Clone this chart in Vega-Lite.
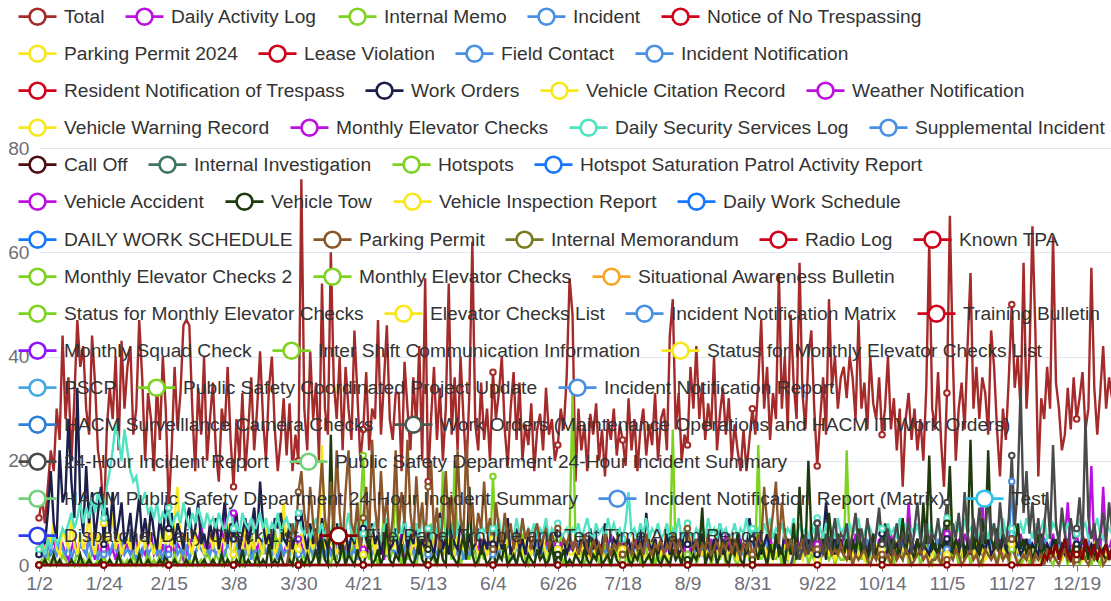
{
"$schema":"https://vega.github.io/schema/vega-lite/v6.json",
"width":1073,"height":417,
"autosize":{"type":"none"},
"padding":{"left":39,"top":148,"right":0,"bottom":36},
"background":"#ffffff",
"config":{"view":{"stroke":null},"font":"Liberation Sans",
 "legend":{"orient":"none","direction":"horizontal","symbolType":"M-1,0L-0.42,0M0.42,0L1,0M-0.42,0A0.42,0.42,0,1,1,0.42,0A0.42,0.42,0,1,1,-0.42,0","symbolSize":1444,"symbolStrokeWidth":2.6,"symbolFillColor":"#ffffff","labelFontSize":19.2,"labelColor":"#333333","labelFont":"Liberation Sans","labelOffset":6,"labelLimit":900,"columnPadding":15,"padding":0}},
"datasets":{
"names":[{"k":"T","name":"Total"},{"k":"a","name":"Daily Activity Log"},{"k":"m","name":"Internal Memo"},{"k":"i","name":"Incident"},{"k":"y","name":"Parking Permit 2024"},{"k":"w","name":"Work Orders"},{"k":"s","name":"Daily Security Services Log"},{"k":"v","name":"Vehicle Tow"},{"k":"p","name":"Parking Permit"},{"k":"h","name":"24-Hour Incident Report"},{"k":"f","name":"Fire Panel Trouble and Test Time Alarm Report"}],
"days":[
{"d":"1/2","T":9,"a":3,"m":0,"i":2,"y":3,"w":2,"s":3,"v":0,"p":0,"h":0,"f":0},
{"d":"1/3","T":13,"a":2,"m":1,"i":3,"y":5,"w":6,"s":4,"v":0,"p":0,"h":0,"f":0},
{"d":"1/4","T":8,"a":4,"m":0,"i":1,"y":2,"w":4,"s":2,"v":1,"p":0,"h":0,"f":0},
{"d":"1/5","T":15,"a":1,"m":2,"i":4,"y":6,"w":10,"s":5,"v":0,"p":0,"h":0,"f":0},
{"d":"1/6","T":22,"a":3,"m":0,"i":2,"y":4,"w":18,"s":3,"v":0,"p":0,"h":0,"f":0},
{"d":"1/7","T":18,"a":5,"m":1,"i":3,"y":8,"w":8,"s":6,"v":2,"p":0,"h":0,"f":0},
{"d":"1/8","T":30,"a":2,"m":0,"i":2,"y":3,"w":5,"s":4,"v":0,"p":0,"h":0,"f":0},
{"d":"1/9","T":24,"a":3,"m":0,"i":5,"y":2,"w":22,"s":5,"v":1,"p":0,"h":0,"f":0},
{"d":"1/10","T":44,"a":4,"m":2,"i":3,"y":7,"w":12,"s":7,"v":0,"p":0,"h":0,"f":0},
{"d":"1/11","T":28,"a":2,"m":1,"i":2,"y":5,"w":14,"s":6,"v":0,"p":0,"h":0,"f":0},
{"d":"1/12","T":36,"a":1,"m":0,"i":4,"y":3,"w":28,"s":8,"v":0,"p":0,"h":0,"f":0},
{"d":"1/13","T":20,"a":3,"m":1,"i":1,"y":9,"w":16,"s":10,"v":1,"p":0,"h":0,"f":0},
{"d":"1/14","T":32,"a":5,"m":0,"i":3,"y":4,"w":9,"s":7,"v":0,"p":0,"h":0,"f":0},
{"d":"1/15","T":47,"a":2,"m":3,"i":2,"y":2,"w":34,"s":9,"v":0,"p":0,"h":0,"f":0},
{"d":"1/16","T":38,"a":4,"m":0,"i":4,"y":6,"w":12,"s":12,"v":2,"p":0,"h":0,"f":0},
{"d":"1/17","T":42,"a":3,"m":1,"i":3,"y":3,"w":6,"s":8,"v":0,"p":0,"h":0,"f":0},
{"d":"1/18","T":30,"a":2,"m":0,"i":2,"y":5,"w":19,"s":11,"v":0,"p":0,"h":0,"f":0},
{"d":"1/19","T":25,"a":6,"m":2,"i":5,"y":10,"w":8,"s":9,"v":1,"p":0,"h":0,"f":0},
{"d":"1/20","T":44,"a":3,"m":0,"i":2,"y":4,"w":14,"s":13,"v":0,"p":0,"h":0,"f":0},
{"d":"1/21","T":35,"a":1,"m":0,"i":3,"y":2,"w":5,"s":10,"v":0,"p":0,"h":0,"f":0},
{"d":"1/22","T":22,"a":4,"m":1,"i":1,"y":6,"w":10,"s":14,"v":0,"p":0,"h":0,"f":0},
{"d":"1/23","T":18,"a":2,"m":0,"i":4,"y":3,"w":15,"s":12,"v":1,"p":0,"h":0,"f":0},
{"d":"1/24","T":8,"a":3,"m":2,"i":2,"y":8,"w":4,"s":9,"v":0,"p":0,"h":0,"f":0},
{"d":"1/25","T":26,"a":5,"m":0,"i":3,"y":4,"w":11,"s":15,"v":0,"p":0,"h":0,"f":0},
{"d":"1/26","T":34,"a":2,"m":1,"i":2,"y":5,"w":6,"s":18,"v":1,"p":0,"h":0,"f":0},
{"d":"1/27","T":28,"a":3,"m":0,"i":4,"y":10,"w":14,"s":22,"v":0,"p":0,"h":0,"f":0},
{"d":"1/28","T":40,"a":1,"m":0,"i":3,"y":3,"w":5,"s":27,"v":0,"p":0,"h":0,"f":0},
{"d":"1/29","T":22,"a":4,"m":2,"i":2,"y":6,"w":8,"s":24,"v":2,"p":0,"h":0,"f":0},
{"d":"1/30","T":43,"a":2,"m":1,"i":5,"y":2,"w":12,"s":20,"v":0,"p":0,"h":0,"f":0},
{"d":"1/31","T":30,"a":3,"m":0,"i":2,"y":4,"w":4,"s":26,"v":0,"p":0,"h":0,"f":0},
{"d":"2/1","T":38,"a":4,"m":1,"i":3,"y":5,"w":6,"s":22,"v":0,"p":0,"h":0,"f":0},
{"d":"2/2","T":42,"a":2,"m":0,"i":2,"y":3,"w":10,"s":18,"v":1,"p":0,"h":0,"f":0},
{"d":"2/3","T":25,"a":3,"m":2,"i":4,"y":7,"w":3,"s":16,"v":0,"p":0,"h":0,"f":0},
{"d":"2/4","T":30,"a":5,"m":0,"i":1,"y":2,"w":8,"s":17,"v":0,"p":0,"h":0,"f":0},
{"d":"2/5","T":47,"a":1,"m":1,"i":3,"y":4,"w":13,"s":13,"v":2,"p":0,"h":0,"f":0},
{"d":"2/6","T":36,"a":3,"m":0,"i":2,"y":6,"w":5,"s":12,"v":0,"p":0,"h":0,"f":0},
{"d":"2/7","T":20,"a":2,"m":0,"i":5,"y":3,"w":9,"s":14,"v":0,"p":0,"h":0,"f":0},
{"d":"2/8","T":33,"a":4,"m":3,"i":2,"y":8,"w":4,"s":10,"v":1,"p":0,"h":0,"f":0},
{"d":"2/9","T":28,"a":6,"m":0,"i":3,"y":4,"w":11,"s":11,"v":0,"p":0,"h":0,"f":0},
{"d":"2/10","T":18,"a":2,"m":1,"i":4,"y":2,"w":6,"s":9,"v":0,"p":0,"h":0,"f":0},
{"d":"2/11","T":35,"a":3,"m":0,"i":2,"y":5,"w":3,"s":12,"v":0,"p":0,"h":0,"f":0},
{"d":"2/12","T":24,"a":1,"m":2,"i":3,"y":3,"w":9,"s":8,"v":1,"p":0,"h":0,"f":0},
{"d":"2/13","T":40,"a":4,"m":0,"i":1,"y":7,"w":5,"s":10,"v":0,"p":0,"h":0,"f":0},
{"d":"2/14","T":30,"a":2,"m":1,"i":4,"y":4,"w":12,"s":9,"v":2,"p":0,"h":0,"f":0},
{"d":"2/15","T":11,"a":3,"m":0,"i":2,"y":6,"w":7,"s":11,"v":0,"p":0,"h":0,"f":0},
{"d":"2/16","T":22,"a":5,"m":0,"i":3,"y":3,"w":10,"s":7,"v":0,"p":0,"h":0,"f":0},
{"d":"2/17","T":38,"a":2,"m":2,"i":5,"y":9,"w":4,"s":9,"v":1,"p":0,"h":0,"f":0},
{"d":"2/18","T":26,"a":4,"m":0,"i":2,"y":15,"w":8,"s":10,"v":0,"p":0,"h":0,"f":0},
{"d":"2/19","T":33,"a":3,"m":1,"i":3,"y":5,"w":6,"s":8,"v":0,"p":0,"h":0,"f":0},
{"d":"2/20","T":46,"a":1,"m":4,"i":2,"y":3,"w":3,"s":12,"v":0,"p":0,"h":0,"f":0},
{"d":"2/21","T":47,"a":2,"m":0,"i":4,"y":6,"w":9,"s":9,"v":1,"p":0,"h":0,"f":0},
{"d":"2/22","T":46,"a":5,"m":1,"i":1,"y":4,"w":11,"s":7,"v":0,"p":0,"h":0,"f":0},
{"d":"2/23","T":30,"a":3,"m":0,"i":3,"y":2,"w":5,"s":10,"v":0,"p":0,"h":0,"f":0},
{"d":"2/24","T":18,"a":2,"m":2,"i":2,"y":7,"w":7,"s":8,"v":2,"p":0,"h":0,"f":0},
{"d":"2/25","T":34,"a":4,"m":0,"i":4,"y":3,"w":12,"s":11,"v":0,"p":0,"h":0,"f":0},
{"d":"2/26","T":25,"a":8,"m":1,"i":3,"y":5,"w":4,"s":9,"v":0,"p":0,"h":0,"f":0},
{"d":"2/27","T":40,"a":3,"m":0,"i":2,"y":2,"w":6,"s":7,"v":1,"p":0,"h":0,"f":0},
{"d":"2/28","T":20,"a":2,"m":3,"i":3,"y":4,"w":3,"s":10,"v":0,"p":0,"h":0,"f":0},
{"d":"2/29","T":28,"a":4,"m":1,"i":2,"y":6,"w":8,"s":8,"v":0,"p":0,"h":0,"f":0},
{"d":"3/1","T":35,"a":3,"m":0,"i":4,"y":3,"w":5,"s":9,"v":1,"p":0,"h":0,"f":0},
{"d":"3/2","T":22,"a":9,"m":2,"i":2,"y":6,"w":9,"s":7,"v":0,"p":0,"h":0,"f":0},
{"d":"3/3","T":16,"a":4,"m":1,"i":3,"y":2,"w":3,"s":10,"v":0,"p":0,"h":0,"f":0},
{"d":"3/4","T":30,"a":2,"m":0,"i":1,"y":5,"w":7,"s":8,"v":2,"p":0,"h":0,"f":0},
{"d":"3/5","T":26,"a":12,"m":3,"i":2,"y":4,"w":12,"s":6,"v":0,"p":0,"h":0,"f":0},
{"d":"3/6","T":38,"a":5,"m":1,"i":4,"y":8,"w":4,"s":9,"v":1,"p":0,"h":0,"f":0},
{"d":"3/7","T":24,"a":3,"m":0,"i":3,"y":3,"w":8,"s":11,"v":0,"p":0,"h":0,"f":0},
{"d":"3/8","T":15,"a":10,"m":2,"i":2,"y":2,"w":5,"s":7,"v":0,"p":0,"h":0,"f":0},
{"d":"3/9","T":28,"a":4,"m":4,"i":5,"y":6,"w":10,"s":8,"v":1,"p":0,"h":0,"f":0},
{"d":"3/10","T":20,"a":2,"m":1,"i":2,"y":4,"w":3,"s":6,"v":0,"p":0,"h":0,"f":0},
{"d":"3/11","T":33,"a":6,"m":0,"i":3,"y":3,"w":6,"s":10,"v":3,"p":0,"h":0,"f":0},
{"d":"3/12","T":18,"a":3,"m":3,"i":2,"y":7,"w":9,"s":8,"v":0,"p":0,"h":0,"f":0},
{"d":"3/13","T":26,"a":8,"m":2,"i":4,"y":2,"w":4,"s":7,"v":1,"p":0,"h":0,"f":0},
{"d":"3/14","T":36,"a":2,"m":6,"i":1,"y":5,"w":7,"s":9,"v":0,"p":0,"h":0,"f":0},
{"d":"3/15","T":22,"a":4,"m":1,"i":3,"y":3,"w":11,"s":6,"v":0,"p":0,"h":0,"f":0},
{"d":"3/16","T":30,"a":3,"m":0,"i":2,"y":6,"w":5,"s":8,"v":2,"p":0,"h":0,"f":0},
{"d":"3/17","T":41,"a":5,"m":2,"i":3,"y":4,"w":16,"s":10,"v":0,"p":0,"h":0,"f":0},
{"d":"3/18","T":28,"a":2,"m":5,"i":5,"y":2,"w":8,"s":7,"v":1,"p":0,"h":0,"f":0},
{"d":"3/19","T":20,"a":7,"m":8,"i":2,"y":9,"w":4,"s":9,"v":0,"p":0,"h":0,"f":0},
{"d":"3/20","T":34,"a":3,"m":3,"i":4,"y":3,"w":6,"s":6,"v":4,"p":0,"h":0,"f":0},
{"d":"3/21","T":40,"a":4,"m":1,"i":2,"y":5,"w":3,"s":8,"v":0,"p":0,"h":0,"f":0},
{"d":"3/22","T":26,"a":2,"m":7,"i":3,"y":2,"w":9,"s":7,"v":1,"p":0,"h":0,"f":0},
{"d":"3/23","T":18,"a":5,"m":2,"i":1,"y":4,"w":7,"s":10,"v":0,"p":0,"h":0,"f":0},
{"d":"3/24","T":24,"a":3,"m":4,"i":4,"y":6,"w":10,"s":6,"v":2,"p":0,"h":0,"f":0},
{"d":"3/25","T":32,"a":2,"m":9,"i":2,"y":12,"w":5,"s":8,"v":0,"p":0,"h":0,"f":0},
{"d":"3/26","T":21,"a":4,"m":3,"i":3,"y":3,"w":4,"s":9,"v":0,"p":0,"h":0,"f":0},
{"d":"3/27","T":31,"a":6,"m":1,"i":2,"y":5,"w":8,"s":7,"v":1,"p":3,"h":0,"f":0},
{"d":"3/28","T":18,"a":3,"m":5,"i":4,"y":2,"w":3,"s":6,"v":0,"p":8,"h":0,"f":0},
{"d":"3/29","T":25,"a":2,"m":2,"i":3,"y":4,"w":6,"s":8,"v":3,"p":5,"h":0,"f":0},
{"d":"3/30","T":20,"a":5,"m":0,"i":2,"y":3,"w":9,"s":10,"v":0,"p":14,"h":0,"f":0},
{"d":"3/31","T":74,"a":4,"m":1,"i":3,"y":6,"w":10,"s":7,"v":1,"p":18,"h":0,"f":0},
{"d":"4/1","T":30,"a":2,"m":2,"i":2,"y":4,"w":6,"s":6,"v":0,"p":10,"h":0,"f":0},
{"d":"4/2","T":22,"a":4,"m":0,"i":4,"y":2,"w":3,"s":8,"v":2,"p":6,"h":0,"f":0},
{"d":"4/3","T":41,"a":3,"m":4,"i":3,"y":5,"w":8,"s":5,"v":0,"p":15,"h":0,"f":0},
{"d":"4/4","T":28,"a":5,"m":1,"i":2,"y":3,"w":4,"s":7,"v":1,"p":8,"h":0,"f":0},
{"d":"4/5","T":35,"a":2,"m":3,"i":5,"y":6,"w":7,"s":9,"v":3,"p":4,"h":0,"f":0},
{"d":"4/6","T":20,"a":3,"m":0,"i":2,"y":2,"w":2,"s":6,"v":0,"p":12,"h":0,"f":0},
{"d":"4/7","T":54,"a":6,"m":2,"i":3,"y":23,"w":9,"s":8,"v":5,"p":20,"h":0,"f":0},
{"d":"4/8","T":30,"a":2,"m":5,"i":1,"y":3,"w":5,"s":5,"v":1,"p":9,"h":0,"f":0},
{"d":"4/9","T":25,"a":4,"m":1,"i":4,"y":7,"w":3,"s":7,"v":0,"p":5,"h":0,"f":0},
{"d":"4/10","T":60,"a":3,"m":0,"i":2,"y":4,"w":6,"s":6,"v":25,"p":16,"h":0,"f":0},
{"d":"4/11","T":35,"a":1,"m":3,"i":3,"y":4,"w":4,"s":9,"v":2,"p":7,"h":0,"f":0},
{"d":"4/12","T":28,"a":4,"m":1,"i":2,"y":2,"w":8,"s":5,"v":0,"p":22,"h":0,"f":0},
{"d":"4/13","T":40,"a":2,"m":8,"i":6,"y":5,"w":3,"s":8,"v":1,"p":10,"h":0,"f":0},
{"d":"4/14","T":22,"a":5,"m":2,"i":3,"y":3,"w":5,"s":6,"v":4,"p":4,"h":0,"f":0},
{"d":"4/15","T":38,"a":3,"m":0,"i":2,"y":6,"w":7,"s":7,"v":0,"p":14,"h":0,"f":0},
{"d":"4/16","T":30,"a":2,"m":4,"i":4,"y":2,"w":2,"s":10,"v":2,"p":22,"h":0,"f":0},
{"d":"4/17","T":24,"a":4,"m":1,"i":2,"y":4,"w":6,"s":6,"v":1,"p":8,"h":0,"f":0},
{"d":"4/18","T":45,"a":3,"m":6,"i":3,"y":8,"w":4,"s":5,"v":0,"p":6,"h":0,"f":0},
{"d":"4/19","T":33,"a":6,"m":2,"i":1,"y":3,"w":9,"s":8,"v":3,"p":12,"h":0,"f":0},
{"d":"4/20","T":20,"a":2,"m":10,"i":4,"y":5,"w":3,"s":7,"v":1,"p":3,"h":0,"f":0},
{"d":"4/21","T":26,"a":3,"m":21,"i":2,"y":2,"w":7,"s":6,"v":0,"p":9,"h":0,"f":0},
{"d":"4/22","T":37,"a":4,"m":3,"i":3,"y":4,"w":5,"s":9,"v":2,"p":15,"h":0,"f":0},
{"d":"4/23","T":22,"a":2,"m":1,"i":5,"y":3,"w":3,"s":5,"v":5,"p":5,"h":0,"f":0},
{"d":"4/24","T":30,"a":5,"m":5,"i":2,"y":6,"w":8,"s":7,"v":0,"p":24,"h":0,"f":0},
{"d":"4/25","T":28,"a":3,"m":2,"i":3,"y":2,"w":4,"s":8,"v":1,"p":11,"h":0,"f":0},
{"d":"4/26","T":47,"a":2,"m":0,"i":2,"y":5,"w":6,"s":6,"v":3,"p":6,"h":0,"f":0},
{"d":"4/27","T":25,"a":4,"m":4,"i":4,"y":3,"w":2,"s":5,"v":0,"p":18,"h":0,"f":0},
{"d":"4/28","T":35,"a":1,"m":9,"i":3,"y":4,"w":5,"s":7,"v":2,"p":8,"h":0,"f":0},
{"d":"4/29","T":46,"a":3,"m":2,"i":2,"y":2,"w":7,"s":9,"v":8,"p":13,"h":0,"f":0},
{"d":"4/30","T":28,"a":5,"m":1,"i":3,"y":6,"w":3,"s":6,"v":1,"p":4,"h":0,"f":0},
{"d":"5/1","T":24,"a":3,"m":3,"i":3,"y":3,"w":4,"s":7,"v":0,"p":9,"h":0,"f":0},
{"d":"5/2","T":33,"a":2,"m":16,"i":2,"y":5,"w":7,"s":5,"v":2,"p":22,"h":0,"f":0},
{"d":"5/3","T":33,"a":4,"m":2,"i":4,"y":2,"w":2,"s":8,"v":1,"p":6,"h":0,"f":0},
{"d":"5/4","T":18,"a":6,"m":0,"i":2,"y":4,"w":5,"s":6,"v":4,"p":14,"h":0,"f":0},
{"d":"5/5","T":39,"a":2,"m":4,"i":3,"y":6,"w":9,"s":9,"v":0,"p":8,"h":0,"f":0},
{"d":"5/6","T":30,"a":3,"m":1,"i":5,"y":3,"w":3,"s":5,"v":3,"p":24,"h":0,"f":0},
{"d":"5/7","T":22,"a":5,"m":6,"i":2,"y":2,"w":6,"s":7,"v":1,"p":10,"h":0,"f":0},
{"d":"5/8","T":36,"a":2,"m":2,"i":3,"y":5,"w":4,"s":6,"v":0,"p":5,"h":0,"f":0},
{"d":"5/9","T":26,"a":4,"m":0,"i":1,"y":3,"w":8,"s":8,"v":2,"p":17,"h":0,"f":0},
{"d":"5/10","T":42,"a":3,"m":3,"i":4,"y":7,"w":2,"s":5,"v":5,"p":7,"h":0,"f":0},
{"d":"5/11","T":20,"a":2,"m":1,"i":2,"y":2,"w":5,"s":10,"v":1,"p":12,"h":0,"f":0},
{"d":"5/12","T":55,"a":5,"m":5,"i":3,"y":4,"w":3,"s":6,"v":0,"p":4,"h":0,"f":0},
{"d":"5/13","T":16,"a":3,"m":2,"i":2,"y":3,"w":7,"s":7,"v":3,"p":15,"h":0,"f":0},
{"d":"5/14","T":28,"a":4,"m":8,"i":4,"y":5,"w":4,"s":5,"v":1,"p":20,"h":0,"f":0},
{"d":"5/15","T":38,"a":2,"m":1,"i":3,"y":2,"w":2,"s":8,"v":2,"p":6,"h":0,"f":0},
{"d":"5/16","T":24,"a":6,"m":0,"i":2,"y":6,"w":6,"s":6,"v":0,"p":11,"h":0,"f":0},
{"d":"5/17","T":34,"a":3,"m":3,"i":5,"y":3,"w":10,"s":9,"v":4,"p":3,"h":0,"f":0},
{"d":"5/18","T":20,"a":2,"m":18,"i":2,"y":4,"w":3,"s":5,"v":1,"p":9,"h":0,"f":0},
{"d":"5/19","T":30,"a":4,"m":2,"i":3,"y":2,"w":5,"s":7,"v":0,"p":18,"h":0,"f":0},
{"d":"5/20","T":54,"a":3,"m":4,"i":4,"y":5,"w":2,"s":6,"v":13,"p":7,"h":0,"f":0},
{"d":"5/21","T":25,"a":5,"m":1,"i":2,"y":3,"w":7,"s":8,"v":2,"p":13,"h":0,"f":0},
{"d":"5/22","T":36,"a":2,"m":20,"i":3,"y":2,"w":4,"s":5,"v":1,"p":5,"h":0,"f":0},
{"d":"5/23","T":22,"a":3,"m":3,"i":2,"y":6,"w":3,"s":7,"v":0,"p":22,"h":0,"f":0},
{"d":"5/24","T":40,"a":4,"m":0,"i":4,"y":4,"w":8,"s":9,"v":3,"p":9,"h":0,"f":0},
{"d":"5/25","T":28,"a":2,"m":2,"i":1,"y":3,"w":5,"s":6,"v":6,"p":6,"h":0,"f":0},
{"d":"5/26","T":18,"a":6,"m":6,"i":3,"y":2,"w":2,"s":5,"v":1,"p":24,"h":0,"f":0},
{"d":"5/27","T":33,"a":3,"m":1,"i":2,"y":5,"w":6,"s":8,"v":15,"p":8,"h":0,"f":0},
{"d":"5/28","T":62,"a":2,"m":4,"i":4,"y":3,"w":3,"s":6,"v":2,"p":12,"h":0,"f":0},
{"d":"5/29","T":27,"a":4,"m":2,"i":3,"y":4,"w":4,"s":7,"v":0,"p":4,"h":0,"f":0},
{"d":"5/30","T":22,"a":3,"m":0,"i":2,"y":2,"w":7,"s":5,"v":1,"p":10,"h":0,"f":0},
{"d":"5/31","T":35,"a":5,"m":3,"i":3,"y":3,"w":2,"s":8,"v":3,"p":7,"h":0,"f":0},
{"d":"6/1","T":24,"a":2,"m":1,"i":2,"y":4,"w":5,"s":6,"v":2,"p":16,"h":0,"f":0},
{"d":"6/2","T":30,"a":4,"m":4,"i":3,"y":2,"w":3,"s":8,"v":0,"p":6,"h":0,"f":0},
{"d":"6/3","T":20,"a":3,"m":2,"i":5,"y":3,"w":8,"s":5,"v":1,"p":9,"h":0,"f":0},
{"d":"6/4","T":37,"a":5,"m":17,"i":2,"y":5,"w":4,"s":7,"v":3,"p":3,"h":0,"f":0},
{"d":"6/5","T":28,"a":2,"m":3,"i":4,"y":2,"w":2,"s":6,"v":0,"p":12,"h":0,"f":0},
{"d":"6/6","T":33,"a":3,"m":1,"i":2,"y":4,"w":6,"s":9,"v":2,"p":7,"h":0,"f":0},
{"d":"6/7","T":40,"a":4,"m":5,"i":3,"y":3,"w":3,"s":5,"v":1,"p":4,"h":0,"f":0},
{"d":"6/8","T":26,"a":2,"m":2,"i":2,"y":2,"w":5,"s":8,"v":4,"p":10,"h":0,"f":0},
{"d":"6/9","T":19,"a":6,"m":0,"i":4,"y":6,"w":9,"s":6,"v":0,"p":5,"h":0,"f":0},
{"d":"6/10","T":30,"a":3,"m":3,"i":3,"y":3,"w":2,"s":7,"v":1,"p":8,"h":0,"f":0},
{"d":"6/11","T":37,"a":2,"m":1,"i":1,"y":2,"w":4,"s":5,"v":2,"p":3,"h":0,"f":0},
{"d":"6/12","T":24,"a":4,"m":4,"i":4,"y":4,"w":7,"s":9,"v":0,"p":6,"h":0,"f":0},
{"d":"6/13","T":35,"a":3,"m":2,"i":2,"y":3,"w":3,"s":6,"v":3,"p":4,"h":0,"f":0},
{"d":"6/14","T":20,"a":5,"m":6,"i":3,"y":2,"w":5,"s":8,"v":1,"p":9,"h":0,"f":0},
{"d":"6/15","T":27,"a":2,"m":1,"i":5,"y":5,"w":2,"s":5,"v":0,"p":5,"h":0,"f":0},
{"d":"6/16","T":23,"a":3,"m":0,"i":2,"y":3,"w":6,"s":7,"v":2,"p":7,"h":0,"f":0},
{"d":"6/17","T":31,"a":4,"m":3,"i":3,"y":2,"w":4,"s":6,"v":1,"p":3,"h":0,"f":0},
{"d":"6/18","T":18,"a":2,"m":2,"i":2,"y":4,"w":3,"s":8,"v":0,"p":6,"h":0,"f":0},
{"d":"6/19","T":26,"a":5,"m":5,"i":4,"y":2,"w":7,"s":5,"v":3,"p":8,"h":0,"f":0},
{"d":"6/20","T":29,"a":3,"m":1,"i":3,"y":3,"w":2,"s":7,"v":1,"p":4,"h":0,"f":0},
{"d":"6/21","T":22,"a":2,"m":4,"i":2,"y":5,"w":5,"s":6,"v":2,"p":5,"h":0,"f":0},
{"d":"6/22","T":34,"a":4,"m":0,"i":3,"y":2,"w":8,"s":9,"v":0,"p":7,"h":0,"f":0},
{"d":"6/23","T":25,"a":6,"m":2,"i":4,"y":3,"w":3,"s":5,"v":1,"p":3,"h":0,"f":0},
{"d":"6/24","T":28,"a":3,"m":3,"i":2,"y":4,"w":4,"s":7,"v":4,"p":6,"h":0,"f":0},
{"d":"6/25","T":20,"a":2,"m":1,"i":5,"y":2,"w":2,"s":6,"v":0,"p":4,"h":0,"f":0},
{"d":"6/26","T":23,"a":4,"m":5,"i":3,"y":3,"w":6,"s":8,"v":2,"p":7,"h":0,"f":0},
{"d":"6/27","T":30,"a":3,"m":2,"i":2,"y":2,"w":3,"s":5,"v":1,"p":3,"h":0,"f":0},
{"d":"6/28","T":26,"a":5,"m":0,"i":3,"y":4,"w":5,"s":6,"v":3,"p":5,"h":0,"f":0},
{"d":"6/29","T":36,"a":2,"m":3,"i":2,"y":3,"w":2,"s":7,"v":0,"p":4,"h":0,"f":0},
{"d":"6/30","T":55,"a":3,"m":6,"i":4,"y":2,"w":4,"s":5,"v":1,"p":6,"h":0,"f":0},
{"d":"7/1","T":48,"a":4,"m":33,"i":3,"y":2,"w":3,"s":7,"v":0,"p":3,"h":0,"f":0},
{"d":"7/2","T":16,"a":2,"m":4,"i":2,"y":3,"w":5,"s":6,"v":2,"p":5,"h":0,"f":0},
{"d":"7/3","T":30,"a":3,"m":1,"i":4,"y":1,"w":2,"s":8,"v":1,"p":2,"h":0,"f":0},
{"d":"7/4","T":22,"a":5,"m":3,"i":3,"y":4,"w":6,"s":5,"v":0,"p":4,"h":0,"f":0},
{"d":"7/5","T":27,"a":2,"m":0,"i":2,"y":2,"w":4,"s":7,"v":3,"p":6,"h":0,"f":0},
{"d":"7/6","T":18,"a":4,"m":2,"i":5,"y":3,"w":2,"s":9,"v":1,"p":3,"h":0,"f":0},
{"d":"7/7","T":29,"a":3,"m":5,"i":2,"y":1,"w":7,"s":6,"v":0,"p":2,"h":0,"f":0},
{"d":"7/8","T":25,"a":2,"m":1,"i":3,"y":2,"w":3,"s":5,"v":2,"p":5,"h":0,"f":0},
{"d":"7/9","T":31,"a":5,"m":3,"i":4,"y":4,"w":5,"s":8,"v":1,"p":3,"h":0,"f":0},
{"d":"7/10","T":20,"a":3,"m":0,"i":2,"y":2,"w":2,"s":6,"v":4,"p":4,"h":0,"f":0},
{"d":"7/11","T":26,"a":4,"m":2,"i":3,"y":3,"w":4,"s":7,"v":0,"p":2,"h":0,"f":0},
{"d":"7/12","T":17,"a":2,"m":4,"i":2,"y":1,"w":8,"s":5,"v":1,"p":6,"h":0,"f":0},
{"d":"7/13","T":28,"a":3,"m":1,"i":4,"y":2,"w":3,"s":9,"v":2,"p":3,"h":0,"f":0},
{"d":"7/14","T":24,"a":6,"m":0,"i":3,"y":3,"w":2,"s":6,"v":0,"p":2,"h":0,"f":0},
{"d":"7/15","T":30,"a":2,"m":3,"i":2,"y":2,"w":5,"s":8,"v":3,"p":4,"h":0,"f":0},
{"d":"7/16","T":21,"a":4,"m":2,"i":5,"y":4,"w":4,"s":6,"v":1,"p":3,"h":0,"f":0},
{"d":"7/17","T":27,"a":3,"m":6,"i":3,"y":1,"w":6,"s":7,"v":0,"p":5,"h":0,"f":0},
{"d":"7/18","T":24,"a":5,"m":1,"i":2,"y":3,"w":2,"s":5,"v":2,"p":2,"h":0,"f":0},
{"d":"7/19","T":19,"a":2,"m":3,"i":4,"y":2,"w":3,"s":8,"v":5,"p":4,"h":0,"f":0},
{"d":"7/20","T":32,"a":3,"m":0,"i":2,"y":2,"w":5,"s":14,"v":1,"p":3,"h":0,"f":0},
{"d":"7/21","T":22,"a":4,"m":2,"i":3,"y":3,"w":2,"s":6,"v":0,"p":2,"h":0,"f":0},
{"d":"7/22","T":28,"a":2,"m":1,"i":3,"y":1,"w":4,"s":7,"v":2,"p":5,"h":0,"f":0},
{"d":"7/23","T":18,"a":5,"m":4,"i":2,"y":4,"w":3,"s":5,"v":1,"p":3,"h":0,"f":0},
{"d":"7/24","T":26,"a":3,"m":0,"i":4,"y":2,"w":7,"s":8,"v":3,"p":4,"h":0,"f":0},
{"d":"7/25","T":30,"a":2,"m":2,"i":2,"y":3,"w":2,"s":6,"v":0,"p":2,"h":0,"f":0},
{"d":"7/26","T":21,"a":4,"m":3,"i":5,"y":1,"w":10,"s":9,"v":1,"p":6,"h":0,"f":0},
{"d":"7/27","T":27,"a":3,"m":1,"i":3,"y":2,"w":4,"s":5,"v":2,"p":3,"h":0,"f":0},
{"d":"7/28","T":23,"a":2,"m":5,"i":2,"y":3,"w":3,"s":7,"v":0,"p":2,"h":0,"f":0},
{"d":"7/29","T":33,"a":5,"m":0,"i":3,"y":2,"w":5,"s":6,"v":4,"p":4,"h":0,"f":0},
{"d":"7/30","T":20,"a":3,"m":2,"i":4,"y":4,"w":2,"s":8,"v":1,"p":3,"h":0,"f":0},
{"d":"7/31","T":28,"a":4,"m":1,"i":2,"y":2,"w":4,"s":5,"v":0,"p":5,"h":0,"f":0},
{"d":"8/1","T":30,"a":2,"m":3,"i":3,"y":3,"w":3,"s":6,"v":2,"p":2,"h":0,"f":0},
{"d":"8/2","T":22,"a":3,"m":0,"i":4,"y":1,"w":6,"s":8,"v":1,"p":4,"h":0,"f":0},
{"d":"8/3","T":44,"a":5,"m":2,"i":2,"y":2,"w":2,"s":5,"v":0,"p":3,"h":0,"f":0},
{"d":"8/4","T":51,"a":2,"m":26,"i":3,"y":4,"w":4,"s":7,"v":3,"p":6,"h":0,"f":0},
{"d":"8/5","T":26,"a":4,"m":1,"i":2,"y":2,"w":5,"s":6,"v":1,"p":2,"h":0,"f":0},
{"d":"8/6","T":33,"a":3,"m":4,"i":5,"y":3,"w":2,"s":9,"v":2,"p":5,"h":0,"f":0},
{"d":"8/7","T":20,"a":6,"m":0,"i":3,"y":1,"w":3,"s":5,"v":0,"p":3,"h":0,"f":0},
{"d":"8/8","T":25,"a":2,"m":3,"i":2,"y":2,"w":7,"s":7,"v":4,"p":2,"h":0,"f":0},
{"d":"8/9","T":23,"a":3,"m":2,"i":4,"y":8,"w":4,"s":8,"v":1,"p":7,"h":0,"f":0},
{"d":"8/10","T":38,"a":4,"m":1,"i":3,"y":3,"w":2,"s":6,"v":0,"p":4,"h":0,"f":0},
{"d":"8/11","T":30,"a":2,"m":5,"i":2,"y":2,"w":5,"s":5,"v":2,"p":3,"h":0,"f":0},
{"d":"8/12","T":42,"a":5,"m":0,"i":3,"y":1,"w":3,"s":7,"v":1,"p":5,"h":0,"f":0},
{"d":"8/13","T":28,"a":3,"m":2,"i":5,"y":4,"w":2,"s":6,"v":3,"p":2,"h":0,"f":0},
{"d":"8/14","T":35,"a":2,"m":3,"i":2,"y":2,"w":6,"s":8,"v":11,"p":4,"h":0,"f":0},
{"d":"8/15","T":24,"a":4,"m":1,"i":4,"y":3,"w":3,"s":5,"v":0,"p":3,"h":0,"f":0},
{"d":"8/16","T":31,"a":3,"m":4,"i":3,"y":2,"w":4,"s":9,"v":2,"p":6,"h":0,"f":0},
{"d":"8/17","T":26,"a":5,"m":0,"i":2,"y":1,"w":2,"s":6,"v":1,"p":2,"h":0,"f":0},
{"d":"8/18","T":40,"a":2,"m":2,"i":3,"y":3,"w":5,"s":7,"v":4,"p":3,"h":0,"f":0},
{"d":"8/19","T":22,"a":4,"m":7,"i":4,"y":2,"w":3,"s":5,"v":0,"p":5,"h":0,"f":0},
{"d":"8/20","T":29,"a":3,"m":1,"i":2,"y":4,"w":8,"s":8,"v":2,"p":2,"h":0,"f":0},
{"d":"8/21","T":34,"a":2,"m":3,"i":5,"y":2,"w":2,"s":6,"v":5,"p":4,"h":0,"f":0},
{"d":"8/22","T":25,"a":6,"m":0,"i":3,"y":1,"w":4,"s":7,"v":1,"p":3,"h":0,"f":0},
{"d":"8/23","T":32,"a":3,"m":2,"i":2,"y":3,"w":3,"s":5,"v":0,"p":6,"h":0,"f":0},
{"d":"8/24","T":20,"a":4,"m":4,"i":4,"y":2,"w":5,"s":6,"v":3,"p":2,"h":0,"f":0},
{"d":"8/25","T":27,"a":2,"m":1,"i":3,"y":3,"w":2,"s":8,"v":2,"p":5,"h":0,"f":0},
{"d":"8/26","T":22,"a":3,"m":0,"i":2,"y":1,"w":6,"s":5,"v":6,"p":3,"h":0,"f":0},
{"d":"8/27","T":18,"a":5,"m":3,"i":3,"y":2,"w":3,"s":7,"v":1,"p":2,"h":0,"f":0},
{"d":"8/28","T":26,"a":2,"m":2,"i":2,"y":4,"w":4,"s":6,"v":0,"p":4,"h":0,"f":0},
{"d":"8/29","T":18,"a":4,"m":5,"i":4,"y":2,"w":2,"s":9,"v":4,"p":3,"h":0,"f":0},
{"d":"8/30","T":24,"a":3,"m":1,"i":3,"y":3,"w":9,"s":5,"v":2,"p":5,"h":0,"f":0},
{"d":"8/31","T":30,"a":2,"m":0,"i":5,"y":2,"w":5,"s":7,"v":1,"p":2,"h":0,"f":0},
{"d":"9/1","T":25,"a":4,"m":2,"i":2,"y":1,"w":3,"s":6,"v":3,"p":3,"h":0,"f":0},
{"d":"9/2","T":35,"a":3,"m":23,"i":3,"y":3,"w":5,"s":7,"v":1,"p":6,"h":0,"f":0},
{"d":"9/3","T":47,"a":5,"m":1,"i":4,"y":2,"w":2,"s":5,"v":5,"p":4,"h":0,"f":0},
{"d":"9/4","T":30,"a":2,"m":3,"i":2,"y":4,"w":4,"s":8,"v":2,"p":15,"h":0,"f":0},
{"d":"9/5","T":38,"a":3,"m":0,"i":5,"y":2,"w":6,"s":6,"v":0,"p":8,"h":0,"f":0},
{"d":"9/6","T":24,"a":6,"m":2,"i":3,"y":3,"w":3,"s":9,"v":4,"p":5,"h":0,"f":0},
{"d":"9/7","T":33,"a":2,"m":4,"i":2,"y":1,"w":2,"s":5,"v":1,"p":10,"h":0,"f":0},
{"d":"9/8","T":28,"a":4,"m":1,"i":4,"y":2,"w":5,"s":7,"v":6,"p":16,"h":0,"f":0},
{"d":"9/9","T":56,"a":3,"m":3,"i":3,"y":3,"w":4,"s":6,"v":2,"p":4,"h":0,"f":0},
{"d":"9/10","T":30,"a":2,"m":0,"i":2,"y":2,"w":2,"s":8,"v":3,"p":12,"h":0,"f":0},
{"d":"9/11","T":40,"a":5,"m":2,"i":3,"y":4,"w":7,"s":5,"v":0,"p":6,"h":0,"f":0},
{"d":"9/12","T":26,"a":3,"m":1,"i":5,"y":1,"w":3,"s":7,"v":5,"p":3,"h":0,"f":0},
{"d":"9/13","T":48,"a":4,"m":5,"i":2,"y":3,"w":5,"s":6,"v":2,"p":5,"h":0,"f":0},
{"d":"9/14","T":35,"a":2,"m":0,"i":4,"y":2,"w":2,"s":9,"v":8,"p":2,"h":2,"f":0},
{"d":"9/15","T":28,"a":6,"m":2,"i":3,"y":3,"w":4,"s":5,"v":1,"p":4,"h":4,"f":0},
{"d":"9/16","T":58,"a":3,"m":3,"i":2,"y":2,"w":3,"s":8,"v":15,"p":3,"h":1,"f":0},
{"d":"9/17","T":33,"a":2,"m":1,"i":3,"y":1,"w":6,"s":6,"v":4,"p":5,"h":3,"f":0},
{"d":"9/18","T":26,"a":4,"m":4,"i":4,"y":4,"w":2,"s":7,"v":2,"p":2,"h":6,"f":0},
{"d":"9/19","T":40,"a":3,"m":0,"i":2,"y":2,"w":5,"s":5,"v":20,"p":3,"h":2,"f":0},
{"d":"9/20","T":45,"a":5,"m":2,"i":6,"y":3,"w":3,"s":8,"v":6,"p":4,"h":5,"f":0},
{"d":"9/21","T":30,"a":2,"m":1,"i":3,"y":2,"w":4,"s":6,"v":3,"p":2,"h":3,"f":0},
{"d":"9/22","T":19,"a":4,"m":3,"i":2,"y":1,"w":2,"s":9,"v":8,"p":3,"h":8,"f":0},
{"d":"9/23","T":28,"a":3,"m":0,"i":4,"y":3,"w":3,"s":7,"v":2,"p":5,"h":4,"f":0},
{"d":"9/24","T":36,"a":6,"m":6,"i":3,"y":2,"w":5,"s":5,"v":5,"p":2,"h":2,"f":0},
{"d":"9/25","T":25,"a":2,"m":2,"i":5,"y":4,"w":12,"s":8,"v":1,"p":3,"h":6,"f":0},
{"d":"9/26","T":51,"a":3,"m":1,"i":2,"y":2,"w":4,"s":6,"v":10,"p":4,"h":3,"f":0},
{"d":"9/27","T":34,"a":4,"m":3,"i":3,"y":3,"w":2,"s":7,"v":4,"p":2,"h":5,"f":0},
{"d":"9/28","T":40,"a":5,"m":0,"i":4,"y":1,"w":6,"s":5,"v":2,"p":3,"h":9,"f":0},
{"d":"9/29","T":30,"a":2,"m":2,"i":2,"y":2,"w":3,"s":9,"v":6,"p":2,"h":4,"f":0},
{"d":"9/30","T":36,"a":3,"m":1,"i":3,"y":3,"w":5,"s":6,"v":3,"p":4,"h":6,"f":0},
{"d":"10/1","T":38,"a":5,"m":1,"i":4,"y":2,"w":2,"s":7,"v":2,"p":2,"h":5,"f":0},
{"d":"10/2","T":32,"a":3,"m":22,"i":3,"y":3,"w":4,"s":5,"v":5,"p":1,"h":8,"f":0},
{"d":"10/3","T":40,"a":4,"m":3,"i":2,"y":1,"w":3,"s":8,"v":1,"p":3,"h":3,"f":0},
{"d":"10/4","T":36,"a":2,"m":0,"i":5,"y":2,"w":5,"s":6,"v":4,"p":0,"h":6,"f":0},
{"d":"10/5","T":28,"a":6,"m":2,"i":3,"y":4,"w":2,"s":7,"v":3,"p":2,"h":10,"f":0},
{"d":"10/6","T":47,"a":3,"m":4,"i":2,"y":2,"w":6,"s":9,"v":7,"p":1,"h":4,"f":0},
{"d":"10/7","T":30,"a":5,"m":1,"i":4,"y":3,"w":3,"s":5,"v":2,"p":2,"h":7,"f":0},
{"d":"10/8","T":35,"a":2,"m":3,"i":3,"y":1,"w":4,"s":6,"v":5,"p":3,"h":3,"f":0},
{"d":"10/9","T":26,"a":4,"m":0,"i":5,"y":2,"w":2,"s":8,"v":1,"p":1,"h":9,"f":0},
{"d":"10/10","T":40,"a":3,"m":2,"i":2,"y":3,"w":5,"s":7,"v":3,"p":0,"h":5,"f":0},
{"d":"10/11","T":31,"a":6,"m":5,"i":4,"y":2,"w":3,"s":5,"v":6,"p":2,"h":2,"f":0},
{"d":"10/12","T":28,"a":2,"m":1,"i":3,"y":4,"w":2,"s":6,"v":2,"p":1,"h":6,"f":0},
{"d":"10/13","T":36,"a":5,"m":3,"i":2,"y":1,"w":4,"s":9,"v":4,"p":3,"h":11,"f":0},
{"d":"10/14","T":25,"a":3,"m":0,"i":6,"y":3,"w":6,"s":7,"v":1,"p":2,"h":4,"f":0},
{"d":"10/15","T":30,"a":4,"m":2,"i":3,"y":2,"w":3,"s":5,"v":8,"p":1,"h":3,"f":0},
{"d":"10/16","T":40,"a":2,"m":1,"i":4,"y":3,"w":2,"s":8,"v":3,"p":2,"h":7,"f":0},
{"d":"10/17","T":26,"a":6,"m":4,"i":2,"y":1,"w":5,"s":6,"v":2,"p":0,"h":2,"f":0},
{"d":"10/18","T":32,"a":3,"m":0,"i":5,"y":2,"w":3,"s":7,"v":5,"p":3,"h":5,"f":0},
{"d":"10/19","T":22,"a":4,"m":3,"i":3,"y":4,"w":4,"s":5,"v":1,"p":1,"h":8,"f":0},
{"d":"10/20","T":30,"a":5,"m":2,"i":2,"y":2,"w":2,"s":9,"v":4,"p":2,"h":3,"f":0},
{"d":"10/21","T":15,"a":2,"m":1,"i":4,"y":3,"w":6,"s":6,"v":9,"p":1,"h":6,"f":0},
{"d":"10/22","T":28,"a":3,"m":6,"i":3,"y":2,"w":3,"s":8,"v":2,"p":3,"h":4,"f":0},
{"d":"10/23","T":33,"a":12,"m":0,"i":2,"y":6,"w":2,"s":5,"v":6,"p":2,"h":9,"f":0},
{"d":"10/24","T":24,"a":4,"m":2,"i":5,"y":1,"w":4,"s":7,"v":3,"p":0,"h":2,"f":0},
{"d":"10/25","T":30,"a":3,"m":1,"i":3,"y":3,"w":3,"s":6,"v":1,"p":1,"h":7,"f":0},
{"d":"10/26","T":22,"a":5,"m":3,"i":4,"y":2,"w":5,"s":8,"v":5,"p":2,"h":12,"f":0},
{"d":"10/27","T":28,"a":2,"m":0,"i":2,"y":4,"w":2,"s":5,"v":2,"p":3,"h":5,"f":0},
{"d":"10/28","T":20,"a":4,"m":2,"i":3,"y":2,"w":4,"s":7,"v":12,"p":1,"h":3,"f":0},
{"d":"10/29","T":34,"a":3,"m":4,"i":5,"y":3,"w":3,"s":9,"v":4,"p":2,"h":8,"f":0},
{"d":"10/30","T":62,"a":6,"m":1,"i":3,"y":1,"w":2,"s":6,"v":21,"p":0,"h":4,"f":0},
{"d":"10/31","T":30,"a":4,"m":0,"i":4,"y":2,"w":5,"s":7,"v":3,"p":1,"h":6,"f":0},
{"d":"11/1","T":26,"a":3,"m":2,"i":3,"y":3,"w":3,"s":5,"v":4,"p":1,"h":5,"f":0},
{"d":"11/2","T":37,"a":5,"m":1,"i":5,"y":2,"w":2,"s":8,"v":2,"p":2,"h":9,"f":0},
{"d":"11/3","T":24,"a":2,"m":3,"i":2,"y":4,"w":4,"s":6,"v":6,"p":0,"h":4,"f":0},
{"d":"11/4","T":15,"a":4,"m":0,"i":4,"y":1,"w":3,"s":7,"v":3,"p":3,"h":7,"f":0},
{"d":"11/5","T":33,"a":6,"m":2,"i":3,"y":2,"w":5,"s":9,"v":8,"p":1,"h":12,"f":0},
{"d":"11/6","T":67,"a":3,"m":16,"i":6,"y":3,"w":2,"s":5,"v":19,"p":2,"h":3,"f":0},
{"d":"11/7","T":40,"a":4,"m":1,"i":2,"y":2,"w":4,"s":6,"v":2,"p":1,"h":8,"f":0},
{"d":"11/8","T":20,"a":2,"m":3,"i":4,"y":4,"w":3,"s":8,"v":5,"p":3,"h":5,"f":0},
{"d":"11/9","T":30,"a":5,"m":0,"i":3,"y":2,"w":2,"s":7,"v":3,"p":2,"h":10,"f":0},
{"d":"11/10","T":35,"a":3,"m":2,"i":5,"y":3,"w":6,"s":5,"v":7,"p":0,"h":4,"f":0},
{"d":"11/11","T":26,"a":6,"m":1,"i":2,"y":1,"w":3,"s":9,"v":1,"p":1,"h":14,"f":0},
{"d":"11/12","T":42,"a":4,"m":4,"i":3,"y":2,"w":4,"s":6,"v":4,"p":2,"h":6,"f":0},
{"d":"11/13","T":56,"a":2,"m":0,"i":4,"y":3,"w":2,"s":7,"v":24,"p":3,"h":3,"f":0},
{"d":"11/14","T":30,"a":5,"m":2,"i":2,"y":2,"w":5,"s":8,"v":3,"p":1,"h":9,"f":0},
{"d":"11/15","T":38,"a":3,"m":3,"i":5,"y":4,"w":3,"s":5,"v":6,"p":2,"h":5,"f":0},
{"d":"11/16","T":28,"a":4,"m":1,"i":3,"y":2,"w":2,"s":6,"v":2,"p":0,"h":11,"f":0},
{"d":"11/17","T":36,"a":13,"m":0,"i":2,"y":3,"w":4,"s":9,"v":9,"p":1,"h":4,"f":0},
{"d":"11/18","T":33,"a":3,"m":2,"i":4,"y":1,"w":3,"s":7,"v":4,"p":3,"h":7,"f":0},
{"d":"11/19","T":25,"a":5,"m":5,"i":6,"y":2,"w":5,"s":5,"v":22,"p":2,"h":13,"f":0},
{"d":"11/20","T":45,"a":2,"m":1,"i":3,"y":3,"w":2,"s":8,"v":5,"p":1,"h":5,"f":0},
{"d":"11/21","T":38,"a":4,"m":3,"i":2,"y":2,"w":3,"s":6,"v":3,"p":2,"h":8,"f":0},
{"d":"11/22","T":26,"a":3,"m":0,"i":4,"y":4,"w":4,"s":7,"v":7,"p":0,"h":3,"f":0},
{"d":"11/23","T":17,"a":6,"m":2,"i":3,"y":2,"w":2,"s":5,"v":2,"p":3,"h":12,"f":0},
{"d":"11/24","T":30,"a":2,"m":1,"i":5,"y":3,"w":6,"s":9,"v":6,"p":1,"h":6,"f":0},
{"d":"11/25","T":24,"a":4,"m":4,"i":2,"y":2,"w":3,"s":6,"v":4,"p":2,"h":4,"f":0},
{"d":"11/26","T":36,"a":5,"m":0,"i":4,"y":1,"w":2,"s":8,"v":3,"p":1,"h":9,"f":0},
{"d":"11/27","T":50,"a":3,"m":3,"i":16,"y":4,"w":5,"s":7,"v":5,"p":5,"h":21,"f":0},
{"d":"11/28","T":34,"a":2,"m":2,"i":3,"y":2,"w":3,"s":5,"v":2,"p":2,"h":7,"f":0},
{"d":"11/29","T":40,"a":4,"m":1,"i":2,"y":3,"w":4,"s":6,"v":8,"p":0,"h":15,"f":0},
{"d":"11/30","T":30,"a":6,"m":0,"i":4,"y":2,"w":2,"s":8,"v":3,"p":1,"h":34,"f":0},
{"d":"12/1","T":58,"a":3,"m":1,"i":3,"y":2,"w":3,"s":6,"v":5,"p":2,"h":10,"f":0},
{"d":"12/2","T":30,"a":5,"m":3,"i":2,"y":3,"w":5,"s":9,"v":2,"p":1,"h":18,"f":0},
{"d":"12/3","T":40,"a":2,"m":0,"i":5,"y":1,"w":2,"s":7,"v":4,"p":3,"h":6,"f":0},
{"d":"12/4","T":65,"a":4,"m":2,"i":3,"y":4,"w":4,"s":5,"v":1,"p":0,"h":12,"f":0},
{"d":"12/5","T":45,"a":3,"m":1,"i":4,"y":2,"w":3,"s":8,"v":3,"p":2,"h":4,"f":0},
{"d":"12/6","T":17,"a":6,"m":4,"i":2,"y":3,"w":2,"s":6,"v":6,"p":1,"h":9,"f":0},
{"d":"12/7","T":32,"a":2,"m":0,"i":3,"y":2,"w":6,"s":7,"v":2,"p":2,"h":3,"f":0},
{"d":"12/8","T":28,"a":5,"m":2,"i":5,"y":1,"w":3,"s":9,"v":4,"p":0,"h":7,"f":2},
{"d":"12/9","T":38,"a":4,"m":3,"i":2,"y":3,"w":4,"s":5,"v":1,"p":3,"h":14,"f":1},
{"d":"12/10","T":30,"a":3,"m":1,"i":4,"y":2,"w":2,"s":6,"v":3,"p":1,"h":5,"f":3},
{"d":"12/11","T":63,"a":6,"m":0,"i":3,"y":4,"w":5,"s":8,"v":2,"p":2,"h":23,"f":2},
{"d":"12/12","T":35,"a":2,"m":2,"i":2,"y":2,"w":3,"s":7,"v":5,"p":1,"h":8,"f":4},
{"d":"12/13","T":30,"a":4,"m":5,"i":5,"y":3,"w":2,"s":5,"v":1,"p":0,"h":4,"f":1},
{"d":"12/14","T":22,"a":3,"m":1,"i":3,"y":1,"w":4,"s":9,"v":3,"p":2,"h":11,"f":3},
{"d":"12/15","T":25,"a":5,"m":3,"i":4,"y":2,"w":3,"s":6,"v":2,"p":3,"h":6,"f":5},
{"d":"12/16","T":34,"a":12,"m":0,"i":2,"y":3,"w":5,"s":8,"v":4,"p":1,"h":3,"f":2},
{"d":"12/17","T":26,"a":3,"m":2,"i":3,"y":2,"w":2,"s":7,"v":1,"p":2,"h":9,"f":1},
{"d":"12/18","T":36,"a":4,"m":1,"i":1,"y":4,"w":3,"s":5,"v":2,"p":0,"h":5,"f":4},
{"d":"12/19","T":28,"a":6,"m":4,"i":4,"y":2,"w":4,"s":6,"v":3,"p":1,"h":7,"f":2},
{"d":"12/20","T":32,"a":3,"m":0,"i":2,"y":3,"w":2,"s":9,"v":1,"p":2,"h":13,"f":3},
{"d":"12/21","T":37,"a":5,"m":2,"i":3,"y":1,"w":6,"s":7,"v":2,"p":3,"h":4,"f":1},
{"d":"12/22","T":26,"a":2,"m":1,"i":2,"y":2,"w":3,"s":8,"v":4,"p":1,"h":28,"f":5},
{"d":"12/23","T":30,"a":4,"m":3,"i":4,"y":3,"w":2,"s":5,"v":1,"p":0,"h":9,"f":3},
{"d":"12/24","T":57,"a":19,"m":0,"i":3,"y":2,"w":4,"s":6,"v":3,"p":2,"h":5,"f":2},
{"d":"12/25","T":34,"a":3,"m":2,"i":2,"y":4,"w":3,"s":7,"v":2,"p":1,"h":8,"f":4},
{"d":"12/26","T":25,"a":5,"m":1,"i":5,"y":2,"w":5,"s":9,"v":1,"p":2,"h":3,"f":1},
{"d":"12/27","T":33,"a":2,"m":0,"i":3,"y":3,"w":2,"s":6,"v":3,"p":3,"h":6,"f":3},
{"d":"12/28","T":42,"a":15,"m":3,"i":2,"y":1,"w":3,"s":5,"v":2,"p":0,"h":10,"f":2},
{"d":"12/29","T":30,"a":4,"m":2,"i":4,"y":2,"w":4,"s":8,"v":1,"p":1,"h":4,"f":4},
{"d":"12/30","T":36,"a":3,"m":1,"i":3,"y":3,"w":2,"s":7,"v":2,"p":2,"h":12,"f":1},
{"d":"12/31","T":32,"a":5,"m":2,"i":2,"y":2,"w":3,"s":6,"v":1,"p":1,"h":7,"f":3}
]},
"data":{"name":"days"},
"transform":[
{"fold":["T","a","m","i","y","w","s","v","p","h","f"],"as":["k","val"]},
{"lookup":"k","from":{"data":{"name":"names"},"key":"k","fields":["name"]}}
],
"encoding":{
"x":{"field":"d","type":"ordinal","sort":null,"scale":{"type":"point","padding":0},
 "axis":{"title":null,"values":["1/2","1/24","2/15","3/8","3/30","4/21","5/13","6/4","6/26","7/18","8/9","8/31","9/22","10/14","11/5","11/27","12/19"],"labelAngle":0,"labelFontSize":19.2,"labelColor":"#6E7079","labelFont":"Liberation Sans","domainColor":"#6E7079","tickColor":"#6E7079","tickSize":6,"labelPadding":3,"grid":false,"labelOverlap":false}},
"y":{"field":"val","type":"quantitative","scale":{"domain":[0,80],"nice":false},
 "axis":{"title":null,"values":[0,20,40,60,80],"grid":true,"gridColor":"#E0E6F1","domain":false,"ticks":false,"labelFontSize":19.2,"labelColor":"#6E7079","labelFont":"Liberation Sans","labelPadding":10}}
},
"layer":[
{"mark":{"type":"line","strokeWidth":2.4},"encoding":{"color":{"field":"name","type":"nominal","scale":{"domain":["Total","Daily Activity Log","Internal Memo","Incident","Notice of No Trespassing"],"range":["#a52a2a","#bd10e0","#7ed321","#4a90e2","#d0021b"]},"legend":{"title":null,"legendX":-22,"legendY":-152,"encode":{"symbols":{"update":{"fill":{"value":"#ffffff"}}}}}}}},
{"mark":{"type":"line","strokeWidth":2.4},"encoding":{"color":{"field":"name","type":"nominal","scale":{"domain":["Parking Permit 2024","Lease Violation","Field Contact","Incident Notification"],"range":["#f8e71c","#d0021b","#4a90e2","#4a90e2"]},"legend":{"title":null,"legendX":-22,"legendY":-115,"encode":{"symbols":{"update":{"fill":{"value":"#ffffff"}}}}}}}},
{"mark":{"type":"line","strokeWidth":2.4},"encoding":{"color":{"field":"name","type":"nominal","scale":{"domain":["Resident Notification of Trespass","Work Orders","Vehicle Citation Record","Weather Notification"],"range":["#d0021b","#1c1f4a","#f8e71c","#bd10e0"]},"legend":{"title":null,"legendX":-22,"legendY":-78,"encode":{"symbols":{"update":{"fill":{"value":"#ffffff"}}}}}}}},
{"mark":{"type":"line","strokeWidth":2.4},"encoding":{"color":{"field":"name","type":"nominal","scale":{"domain":["Vehicle Warning Record","Monthly Elevator Checks","Daily Security Services Log","Supplemental Incident"],"range":["#f8e71c","#bd10e0","#50e3c2","#4a90e2"]},"legend":{"title":null,"legendX":-22,"legendY":-41,"encode":{"symbols":{"update":{"fill":{"value":"#ffffff"}}}}}}}},
{"mark":{"type":"line","strokeWidth":2.4},"encoding":{"color":{"field":"name","type":"nominal","scale":{"domain":["Call Off","Internal Investigation","Hotspots","Hotspot Saturation Patrol Activity Report"],"range":["#4a0e12","#3f7561","#7ed321","#1677ff"]},"legend":{"title":null,"legendX":-22,"legendY":-4,"encode":{"symbols":{"update":{"fill":{"value":"#ffffff"}}}}}}}},
{"mark":{"type":"line","strokeWidth":2.4},"encoding":{"color":{"field":"name","type":"nominal","scale":{"domain":["Vehicle Accident","Vehicle Tow","Vehicle Inspection Report","Daily Work Schedule"],"range":["#bd10e0","#1f3a0c","#f8e71c","#1677ff"]},"legend":{"title":null,"legendX":-22,"legendY":33,"encode":{"symbols":{"update":{"fill":{"value":"#ffffff"}}}}}}}},
{"mark":{"type":"line","strokeWidth":2.4},"encoding":{"color":{"field":"name","type":"nominal","scale":{"domain":["DAILY WORK SCHEDULE","Parking Permit","Internal Memorandum","Radio Log","Known TPA"],"range":["#1677ff","#8b572a","#7a7a22","#d0021b","#d0021b"]},"legend":{"title":null,"legendX":-22,"legendY":71,"encode":{"symbols":{"update":{"fill":{"value":"#ffffff"}}}}}}}},
{"mark":{"type":"line","strokeWidth":2.4},"encoding":{"color":{"field":"name","type":"nominal","scale":{"domain":["Monthly Elevator Checks 2","Monthly Elevator Checks","Situational Awareness Bulletin"],"range":["#7ed321","#7ed321","#f5a623"]},"legend":{"title":null,"legendX":-22,"legendY":108,"encode":{"symbols":{"update":{"fill":{"value":"#ffffff"}}}}}}}},
{"mark":{"type":"line","strokeWidth":2.4},"encoding":{"color":{"field":"name","type":"nominal","scale":{"domain":["Status for Monthly Elevator Checks","Elevator Checks List","Incident Notification Matrix","Training Bulletin"],"range":["#7ed321","#f8e71c","#4a90e2","#d0021b"]},"legend":{"title":null,"legendX":-22,"legendY":145,"encode":{"symbols":{"update":{"fill":{"value":"#ffffff"}}}}}}}},
{"mark":{"type":"line","strokeWidth":2.4},"encoding":{"color":{"field":"name","type":"nominal","scale":{"domain":["Monthly Squad Check","Inter Shift Communication Information","Status for Monthly Elevator Checks List"],"range":["#9013fe","#7ed321","#f8e71c"]},"legend":{"title":null,"legendX":-22,"legendY":182,"encode":{"symbols":{"update":{"fill":{"value":"#ffffff"}}}}}}}},
{"mark":{"type":"line","strokeWidth":2.4},"encoding":{"color":{"field":"name","type":"nominal","scale":{"domain":["PSCP","Public Safety Coordinated Project Update","Incident Notification Report"],"range":["#45a8e0","#7ed321","#4a90e2"]},"legend":{"title":null,"legendX":-22,"legendY":219,"encode":{"symbols":{"update":{"fill":{"value":"#ffffff"}}}}}}}},
{"mark":{"type":"line","strokeWidth":2.4},"encoding":{"color":{"field":"name","type":"nominal","scale":{"domain":["HACM Surveillance Camera Checks","Work Orders (Maintenance Operations and HACM IT Work Orders)"],"range":["#2f80d8","#4f554f"]},"legend":{"title":null,"legendX":-22,"legendY":256,"encode":{"symbols":{"update":{"fill":{"value":"#ffffff"}}}}}}}},
{"mark":{"type":"line","strokeWidth":2.4},"encoding":{"color":{"field":"name","type":"nominal","scale":{"domain":["24-Hour Incident Report","Public Safety Department 24-Hour Incident Summary"],"range":["#4a4a4a","#72d27a"]},"legend":{"title":null,"legendX":-22,"legendY":293,"encode":{"symbols":{"update":{"fill":{"value":"#ffffff"}}}}}}}},
{"mark":{"type":"line","strokeWidth":2.4},"encoding":{"color":{"field":"name","type":"nominal","scale":{"domain":["HACM Public Safety Department 24-Hour Incident Summary","Incident Notification Report (Matrix)","Test"],"range":["#72d27a","#4a90e2","#2ec2ea"]},"legend":{"title":null,"legendX":-22,"legendY":330,"encode":{"symbols":{"update":{"fill":{"value":"#ffffff"}}}}}}}},
{"mark":{"type":"line","strokeWidth":2.4},"encoding":{"color":{"field":"name","type":"nominal","scale":{"domain":["Dispatcher Daily Check List","Fire Panel Trouble and Test Time Alarm Report"],"range":["#2b3df0","#8b0000"]},"legend":{"title":null,"legendX":-22,"legendY":367,"encode":{"symbols":{"update":{"fill":{"value":"#ffffff"}}}}}}}},
{"mark":{"type":"point","filled":false,"fill":"#ffffff","size":30,"strokeWidth":2},
 "encoding":{"color":{"field":"name","type":"nominal","scale":{"domain":["Total","Daily Activity Log","Internal Memo","Incident","Parking Permit 2024","Work Orders","Daily Security Services Log","Vehicle Tow","Parking Permit","24-Hour Incident Report","Fire Panel Trouble and Test Time Alarm Report"],"range":["#a52a2a","#bd10e0","#7ed321","#4a90e2","#f8e71c","#1c1f4a","#50e3c2","#1f3a0c","#8b572a","#4a4a4a","#8b0000"]},"legend":null},
 "opacity":{"condition":{"test":"indexof(['1/2','1/24','2/15','3/8','3/30','4/21','5/13','6/4','6/26','7/18','8/9','8/31','9/22','10/14','11/5','11/27','12/19'], datum.d) >= 0","value":1},"value":0}}}
],
"resolve":{"scale":{"color":"independent"}}
}
